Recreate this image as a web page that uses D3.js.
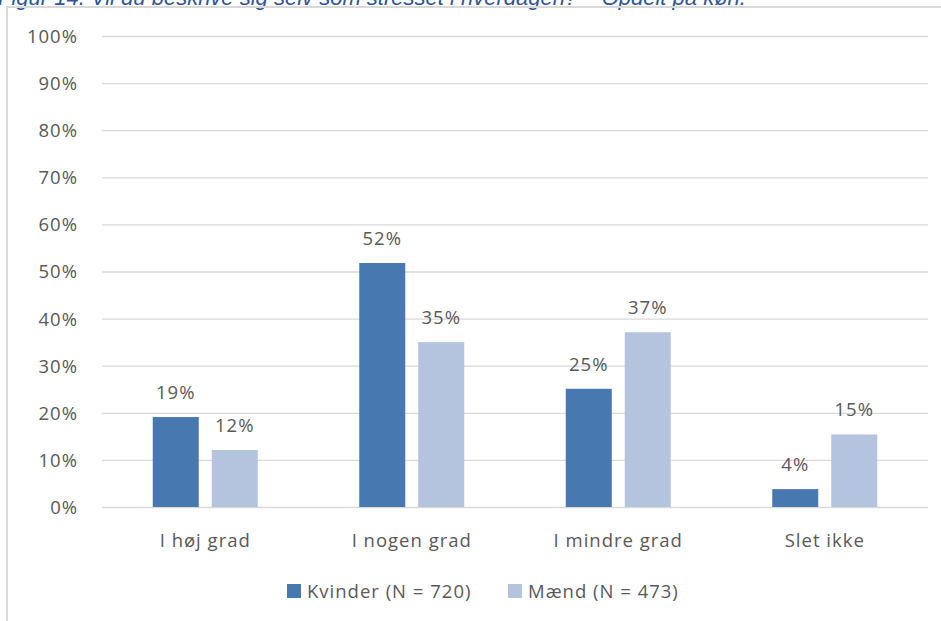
<!DOCTYPE html>
<html>
<head>
<meta charset="utf-8">
<script src="https://cdn.jsdelivr.net/npm/d3@7"></script>
<style>
  body { margin: 0; background: #fff; }
  svg text { font-family: "Open Sans", "Noto Sans", sans-serif; fill: #595959; letter-spacing: 1px; }
</style>
</head>
<body>
<svg id="chart" width="941" height="621"></svg>
<script>
var categories = ["I høj grad", "I nogen grad", "I mindre grad", "Slet ikke"];
var seriesNames = ["Kvinder (N = 720)", "Mænd (N = 473)"];
var kvinder = [19.1, 51.8, 25.1, 3.8];
var maend = [12.1, 35.0, 37.1, 15.4];
var yTicks = [0, 10, 20, 30, 40, 50, 60, 70, 80, 90, 100];
var colors = ["#4878b0", "#b4c4de"];
var title = "Figur 14. Vil du beskrive sig selv som stresset i hverdagen? – Opdelt på køn.";

var svg = d3.select("#chart");

// figure caption, cut off at top like in the document
svg.append("text")
    .attr("x", -2).attr("y", 4.5)
    .style("font-family", "Arial, 'Liberation Sans', sans-serif")
    .style("font-style", "italic")
    .style("font-size", "22px")
    .style("letter-spacing", "0px")
    .style("fill", "#2f5597")
    .text(title);

// chart frame
svg.append("rect")
    .attr("x", 7).attr("y", 7)
    .attr("width", 960).attr("height", 640)
    .attr("fill", "none")
    .attr("stroke", "#d9d9d9")
    .attr("stroke-width", 2);

var margin = {left: 102, right: 13, top: 36, bottom: 114};
var width = 941 - margin.left - margin.right,
    height = 621 - margin.top - margin.bottom;

var g = svg.append("g").attr("transform", "translate(" + margin.left + "," + margin.top + ")");

var x0 = d3.scaleBand().domain(categories).range([0, width]);
var x1 = d3.scaleBand().domain([0, 1]).range([0, 105]).paddingInner(0.22);
var y = d3.scaleLinear().domain([0, 100]).range([height, 0]);

var yAxis = g.append("g")
    .call(d3.axisLeft(y).tickValues(yTicks).tickSize(-width).tickFormat(function(d) { return d + "%"; }));
yAxis.select(".domain").remove();
yAxis.selectAll(".tick line").attr("stroke", "#d9d9d9").attr("stroke-width", 1.3);
yAxis.selectAll(".tick text").attr("x", -24).attr("dy", "0.35em").style("font-size", "18.5px");

var data = categories.map(function(c, i) { return {cat: c, vals: [kvinder[i], maend[i]]}; });

var groups = g.selectAll(".grp").data(data).enter().append("g")
    .attr("transform", function(d) { return "translate(" + (x0(d.cat) + x0.bandwidth() / 2 - 52.5) + ",0)"; });

groups.selectAll("rect").data(function(d) { return d.vals; }).enter().append("rect")
    .attr("x", function(d, i) { return x1(i); })
    .attr("y", function(d) { return y(d); })
    .attr("width", x1.bandwidth())
    .attr("height", function(d) { return height - y(d); })
    .attr("fill", function(d, i) { return colors[i]; });

groups.selectAll(".lbl").data(function(d) { return d.vals; }).enter().append("text")
    .attr("x", function(d, i) { return x1(i) + x1.bandwidth() / 2; })
    .attr("y", function(d) { return y(d) - 18; })
    .attr("text-anchor", "middle")
    .style("font-size", "18.5px")
    .text(function(d) { return Math.round(d) + "%"; });

// category labels
g.selectAll(".cat").data(categories).enter().append("text")
    .attr("x", function(d) { return x0(d) + x0.bandwidth() / 2; })
    .attr("y", height + 40)
    .attr("text-anchor", "middle")
    .style("font-size", "18.5px")
    .text(function(d) { return d; });

// legend
var legendX = [287, 508];
var leg = svg.selectAll(".leg").data(seriesNames).enter().append("g")
    .attr("transform", function(d, i) { return "translate(" + legendX[i] + ",584)"; });
leg.append("rect").attr("width", 14).attr("height", 14)
    .attr("fill", function(d, i) { return colors[i]; });
leg.append("text").attr("x", 20).attr("y", 14)
    .style("font-size", "18.5px")
    .text(function(d) { return d; });
</script>
</body>
</html>
